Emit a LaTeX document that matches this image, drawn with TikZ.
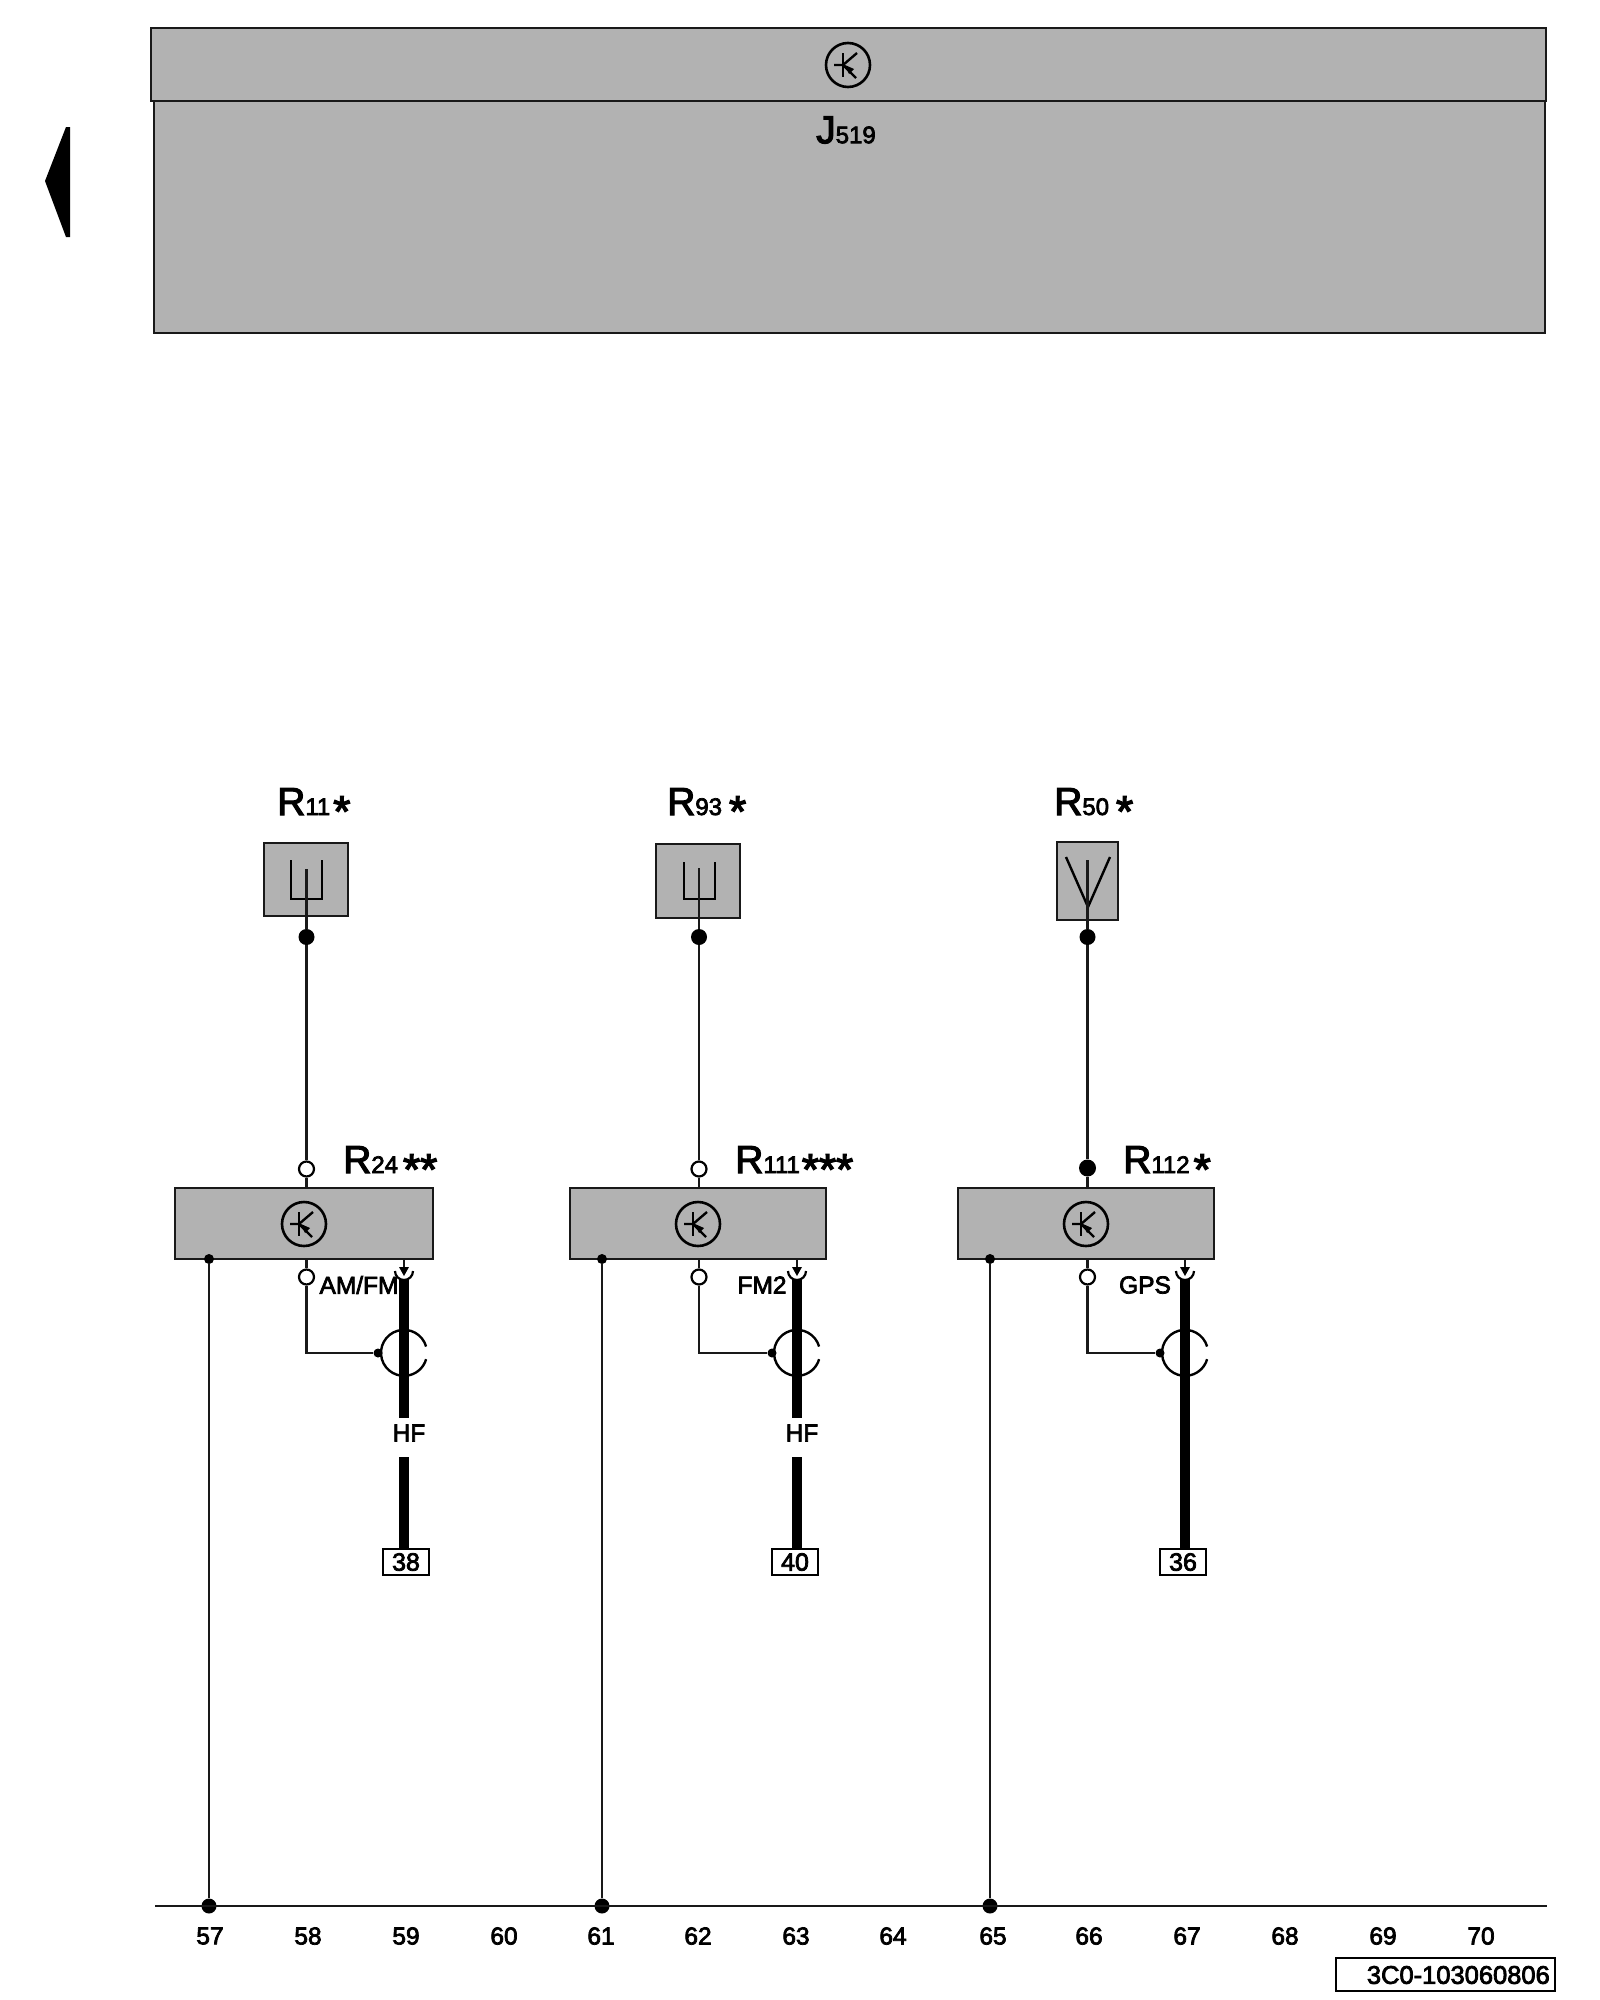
\documentclass[tikz,border=0pt]{standalone}
\usepackage{fontspec}
\setmainfont{Liberation Sans}
\newfontfamily\lab[FakeBold=3]{Liberation Sans}
\usetikzlibrary{arrows.meta}
\definecolor{boxgray}{RGB}{178,178,178}
\tikzset{
 x=1pt,y=-1pt,
 line cap=butt,
 wire/.style={draw=black!90,line width=2.4pt},
 fork/.style={draw=black,line width=2.4pt},
 boxline/.style={draw=black!90,fill=boxgray,line width=2.6pt},
 module/.style={draw=black!90,fill=boxgray,line width=2.6pt,minimum height=71pt,inner sep=0pt},
 dotnode/.style={circle,fill=black,inner sep=0pt,minimum size=#1},
 opendot/.style={circle,draw=black,fill=white,line width=2.2pt,inner sep=0pt,minimum size=15pt},
 cable/.style={draw=black,line width=10.5pt},
 txt/.style={inner sep=0pt,text=black,font=\lab},
 desig/.style={txt,anchor=base west},
 num/.style={txt,font=\lab\fontsize{24.5}{24.5}\selectfont},
 pin/.style={txt,draw=black,fill=white,line width=2.2pt,minimum width=46pt,minimum height=26pt,font=\lab\fontsize{25}{25}\selectfont},
}
% letter, index, gap before the asterisks, asterisks
\newcommand{\Desig}[4]{{\fontsize{39}{39}\selectfont #1}{\fontsize{24}{24}\selectfont #2}\hspace{#3pt}\raisebox{-11.5pt}{\fontsize{44}{44}\selectfont #4}}
\newcommand{\Trans}[2]{%
 \begin{scope}[shift={(#1,#2)}]
  \draw[line width=2.6pt,black] (0,0) circle[radius=22];
  \draw[line width=2.4pt] (-5,-12) -- (-5,12);
  \draw[line width=2.4pt] (-14,0) -- (-5,0) -- (9,-12);
  \draw[line width=2.4pt] (-5,0) -- (8,13);
  \fill (-3,0) -- (6,4) -- (1,9) -- cycle;
 \end{scope}}
\newcommand{\Coax}[2]{%
 \begin{scope}[shift={(#1,#2)}]
  \draw[line width=2.4pt] (22.1,-6.5) arc[start angle=-16,end angle=-344,radius=23];
 \end{scope}}
\begin{document}
\begin{tikzpicture}
\useasboundingbox (0,0) rectangle (1600,2000);
\fill[white] (0,0) rectangle (1600,2000);
% control unit
\draw[boxline] (154,101) rectangle (1545,333);
\draw[boxline] (151,28) rectangle (1546,101);
\node[txt] (J) at (846,130) {{\fontsize{39}{39}\selectfont J}{\fontsize{24}{24}\selectfont 519}};
\Trans{848}{65}
\fill (70,127) -- (70,237) -- (66,237) -- (45,181) -- (66,127) -- cycle;
% antennas
\draw[boxline] (264,843) rectangle (348,916);
\draw[boxline] (656,844) rectangle (740,918);
\draw[boxline] (1057,842) rectangle (1118,920);
\node[desig] (r11) at (277,815) {\Desig{R}{11}{3}{*}};
\node[desig] (r93) at (667,815) {\Desig{R}{93}{7}{*}};
\node[desig] (r50) at (1054,815) {\Desig{R}{50}{7}{*}};
\draw[fork] (291,860) -- (291,899) -- (322,899) -- (322,860);
\draw[fork] (684,862) -- (684,899) -- (715,899) -- (715,862);
\draw[fork] (1066,857) -- (1088,907) -- (1110,857);
\draw[fork] (1088,860) -- (1088,907);
% modules
\node[module,minimum width=258pt] (m1) at (304,1223.5) {};
\node[module,minimum width=256pt] (m2) at (698,1223.5) {};
\node[module,minimum width=256pt] (m3) at (1086,1223.5) {};
\Trans{304}{1224}\Trans{698}{1224}\Trans{1086}{1224}
\node[desig] (r24) at (343,1173) {\Desig{R}{24}{5}{**}};
\node[desig] (r111) at (735,1173) {\Desig{R}{111}{2}{***}};
\node[desig] (r112) at (1123,1173) {\Desig{R}{112}{4}{*}};
% dots
\node[dotnode=16pt] (a1) at (306.5,937) {};
\node[dotnode=16pt] (a2) at (699,937) {};
\node[dotnode=16pt] (a3) at (1087.5,937) {};
\node[opendot] (t1) at (306.5,1169) {};
\node[opendot] (t2) at (699,1169) {};
\node[dotnode=17pt] (t3) at (1087.5,1168) {};
\node[opendot] (b1) at (306.5,1277) {};
\node[opendot] (b2) at (699,1277) {};
\node[opendot] (b3) at (1087.5,1277) {};
\draw[wire] (306.5,869) -- (a1) -- (t1) -- (306.5,1188);
\draw[wire] (699,868) -- (a2) -- (t2) -- (699,1188);
\draw[wire] (1087.5,860) -- (a3) -- (t3) -- (1087.5,1188);
\draw[wire] (306.5,1259) -- (b1);
\draw[wire] (699,1259) -- (b2);
\draw[wire] (1087.5,1259) -- (b3);
% cable shields
\node[dotnode=9pt] (j1) at (378,1353) {};
\node[dotnode=9pt] (j2) at (772,1353) {};
\node[dotnode=9pt] (j3) at (1160,1353) {};
\draw[wire] (b1) |- (j1);
\draw[wire] (b2) |- (j2);
\draw[wire] (b3) |- (j3);
\Coax{404}{1353}\Coax{797}{1353}\Coax{1185}{1353}
% cables
\node[pin] (p1) at (406,1562) {38};
\node[pin] (p2) at (795,1562) {40};
\node[pin] (p3) at (1183,1562) {36};
\foreach \x in {404,797}{
 \draw[cable] (\x,1279) -- (\x,1418);
 \draw[cable] (\x,1457) -- (\x,1549);
}
\draw[cable] (1185,1279) -- (1185,1549);
\node[num] (hf1) at (409,1433) {HF};
\node[num] (hf2) at (802,1433) {HF};
\node[num] (am) at (359,1285) {AM/FM};
\node[num] (fm) at (762,1285) {FM2};
\node[num] (gps) at (1145,1285) {GPS};
\foreach \x in {404,797,1185}{
 \draw[wire] (\x,1259) -- (\x,1272);
 \fill (\x-5,1267) -- (\x+5,1267) -- (\x,1276) -- cycle;
 \draw[draw=black,line width=2.2pt] (\x-9,1271) arc[start angle=180,end angle=0,radius=9];
}
% ground
\node[dotnode=10pt] (g1) at (209,1259) {};
\node[dotnode=10pt] (g2) at (602,1259) {};
\node[dotnode=10pt] (g3) at (990,1259) {};
\node[dotnode=15pt] (n1) at (209,1906) {};
\node[dotnode=15pt] (n2) at (602,1906) {};
\node[dotnode=15pt] (n3) at (990,1906) {};
\draw[wire] (g1) -- (n1);
\draw[wire] (g2) -- (n2);
\draw[wire] (g3) -- (n3);
\coordinate (busL) at (155,1906);
\coordinate (busR) at (1547,1906);
\draw[wire] (busL) -- (busR);
% numbers
\foreach \x/\t in {210/57,308/58,406/59,504/60,601/61,698/62,796/63,893/64,993/65,1089/66,1187/67,1285/68,1383/69,1481/70}
 \node[num] at (\x,1936) {\t};
\node[draw=black,line width=2.4pt,minimum width=219pt,minimum height=33pt,inner sep=0pt] (ref) at (1445.5,1974.5) {};
\node[txt,anchor=east,font=\lab\fontsize{25.5}{25.5}\selectfont] at (1550,1975) {3C0-103060806};
\end{tikzpicture}
\end{document}
